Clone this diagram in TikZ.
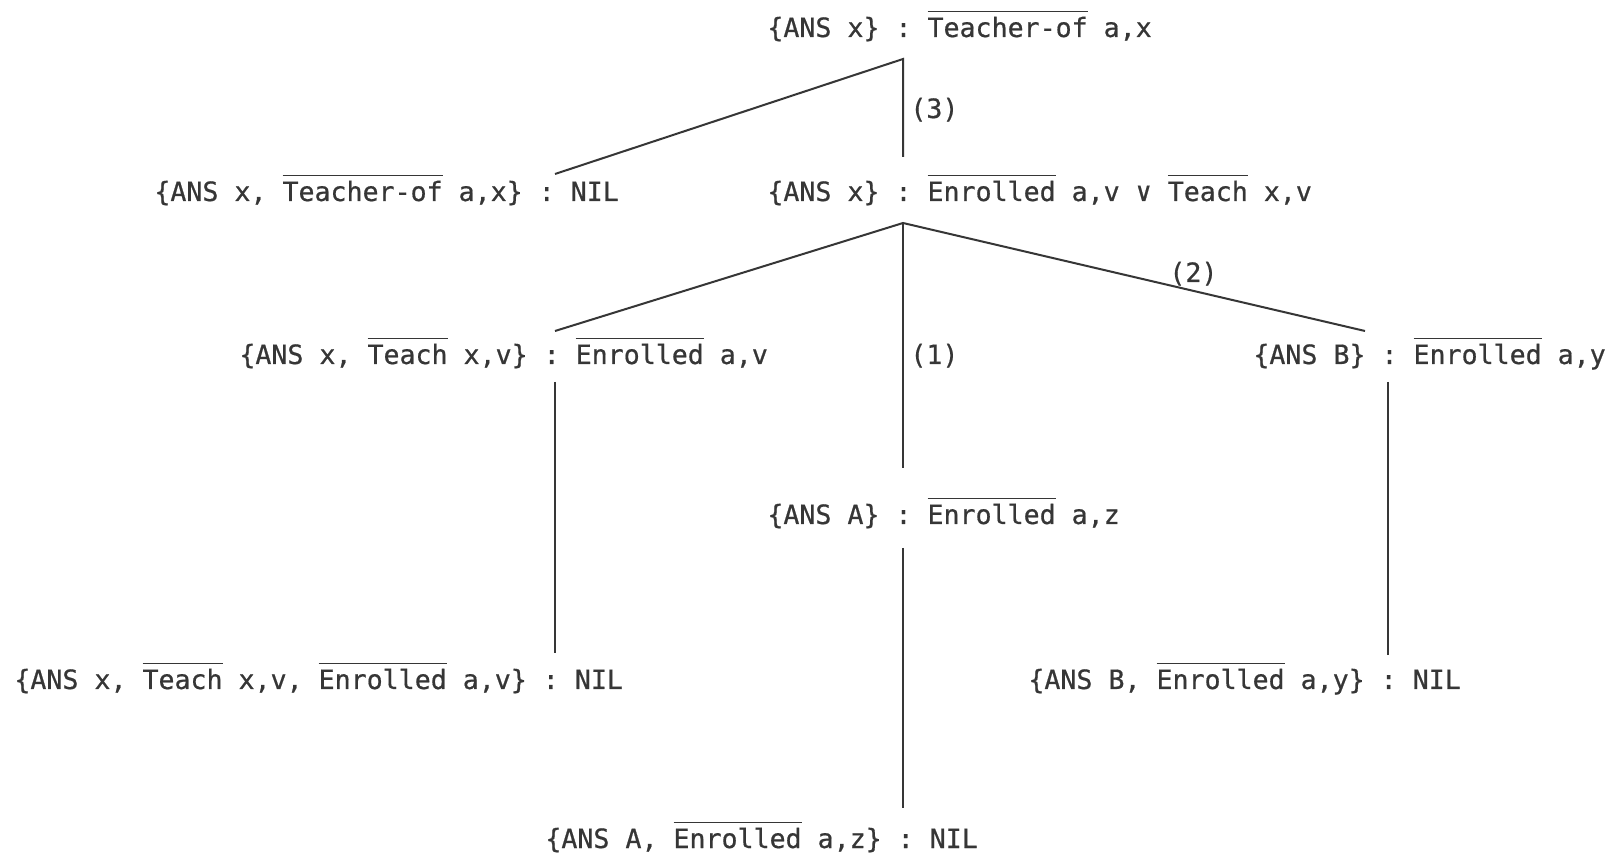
\documentclass[tikz,border=0pt]{standalone}
\usepackage{fontspec}
\setmonofont[FakeBold=0.6]{DejaVu Sans Mono}
% negated literal: a bar drawn over the word
\newcommand\ovr[1]{\setbox0=\hbox{#1}\rlap{\rule[12.3pt]{\wd0}{0.9pt}}\box0\relax}
\definecolor{ink}{HTML}{363636}
\begin{document}
\begin{tikzpicture}[x=0.5pt,y=-0.5pt,
  clause/.style={anchor=base west,inner sep=0pt,text=ink,
    font=\ttfamily\fontsize{13.3pt}{16pt}\selectfont},
  tag/.style={clause},
  edge/.style={draw=ink,line width=1pt}]
\fill[white] (0,0) rectangle (1612,860);
\useasboundingbox (0,0) rectangle (1612,860);

% clauses of the refutation tree
\node[clause] (root) at (767,37) {\{ANS x\} : \ovr{Teacher-of} a,x};
\node[clause] (nilA) at (154,201) {\{ANS x, \ovr{Teacher-of} a,x\} : NIL};
\node[clause] (mid)  at (767,201) {\{ANS x\} : \ovr{Enrolled} a,v ∨ \ovr{Teach} x,v};
\node[clause] (lft)  at (239,364) {\{ANS x, \ovr{Teach} x,v\} : \ovr{Enrolled} a,v};
\node[clause] (rgt)  at (1253,364) {\{ANS B\} : \ovr{Enrolled} a,y};
\node[clause] (ansA) at (767,524) {\{ANS A\} : \ovr{Enrolled} a,z};
\node[clause] (nilB) at (14,689) {\{ANS x, \ovr{Teach} x,v, \ovr{Enrolled} a,v\} : NIL};
\node[clause] (nilC) at (1028,689) {\{ANS B, \ovr{Enrolled} a,y\} : NIL};
\node[clause] (nilD) at (545,848) {\{ANS A, \ovr{Enrolled} a,z\} : NIL};

% step numbers
\node[tag] (s3) at (910,118) {(3)};
\node[tag] (s2) at (1169,282) {(2)};
\node[tag] (s1) at (910,364) {(1)};

% branch points and line ends
\coordinate (v1) at (903,59);
\coordinate (v2) at (903,223);
\coordinate (e1) at (555,174);
\coordinate (e2) at (903,157);
\coordinate (e3) at (555,331);
\coordinate (e4) at (903,468);
\coordinate (e5) at (1365,331);
\coordinate (t1) at (555,382);
\coordinate (b1) at (555,653);
\coordinate (t2) at (1388,382);
\coordinate (b2) at (1388,655);
\coordinate (t3) at (903,548);
\coordinate (b3) at (903,808);

\draw[edge] (e1) -- (v1) -- (e2);
\draw[edge] (e3) -- (v2) -- (e5);
\draw[edge] (v2) -- (e4);
\draw[edge] (t1) -- (b1);
\draw[edge] (t2) -- (b2);
\draw[edge] (t3) -- (b3);
\end{tikzpicture}
\end{document}
